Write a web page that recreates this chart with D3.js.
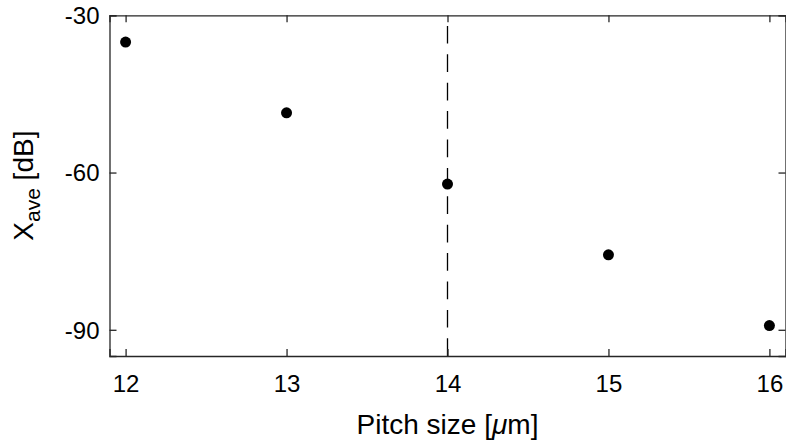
<!DOCTYPE html>
<html><head><meta charset="utf-8">
<script src="https://cdn.jsdelivr.net/npm/d3@7"></script>
<style>body{margin:0;background:#fff}svg{display:block}text{font-family:"Liberation Sans",Arial,Helvetica,sans-serif;fill:#000}</style>
</head><body><svg id="c" width="786" height="443"></svg>
<script>
const pitch = [12, 13, 14, 15, 16];
const xave = [-35.1, -48.6, -62.2, -75.7, -89.2];
const xTicks = [12, 13, 14, 15, 16];
const yTicks = [-30, -60, -90];
const xDomain = [11.9, 16.1];
const yDomain = [-95, -30];
const markerX = 14;

const svg = d3.select("#c");
const L = 109.5, R = 785.5, T = 15.3, B = 356;
const x = d3.scaleLinear().domain(xDomain).range([L, R]);
const y = d3.scaleLinear().domain(yDomain).range([B, T]);
const tickLen = 7, axisCol = "#262626";

// dashed vertical line (drawn bottom to top)
svg.append("line")
  .attr("x1", x(markerX)).attr("x2", x(markerX))
  .attr("y1", y(yDomain[0])).attr("y2", y(yDomain[1]))
  .attr("stroke", "#000").attr("stroke-width", 1.3)
  .attr("stroke-dasharray", "17.7,10.7");

// axes
const fmt = d => d3.format("d")(d).replace("−", "-");
const gB = svg.append("g").attr("transform", `translate(0,${B})`)
  .call(d3.axisBottom(x).tickValues(xTicks).tickSize(-tickLen).tickPadding(19).tickFormat(fmt));
const gT = svg.append("g").attr("transform", `translate(0,${T})`)
  .call(d3.axisTop(x).tickValues(xTicks).tickSize(-tickLen).tickFormat(""));
const gL = svg.append("g").attr("transform", `translate(${L},0)`)
  .call(d3.axisLeft(y).tickValues(yTicks).tickSize(-tickLen).tickPadding(10).tickFormat(fmt));
const gR = svg.append("g").attr("transform", `translate(${R},0)`)
  .call(d3.axisRight(y).tickValues(yTicks).tickSize(-tickLen).tickFormat(""));
[gB, gT, gL, gR].forEach(g => {
  g.select(".domain").attr("stroke", axisCol).attr("stroke-width", 1.3);
  g.selectAll(".tick line").attr("stroke", axisCol).attr("stroke-width", 1.3);
  g.selectAll(".tick text").attr("font-size", 24).attr("fill", "#000")
    .attr("font-family", '"Liberation Sans",Arial,sans-serif');
});
gB.selectAll(".tick text").attr("dy", "0.71em");
gL.selectAll(".tick text").attr("dy", "0.35em");

// points
svg.append("g").selectAll("circle").data(pitch).join("circle")
  .attr("cx", (d, i) => x(d)).attr("cy", (d, i) => y(xave[i]))
  .attr("r", 5.5).attr("fill", "#000");

// labels
const xl = svg.append("text").attr("x", (L + R) / 2).attr("y", 434)
  .attr("text-anchor", "middle").attr("font-size", 28);
xl.append("tspan").text("Pitch size [");
xl.append("tspan").attr("font-style", "italic").text("μ");
xl.append("tspan").text("m]");

const yl = svg.append("text").attr("transform", `translate(33,${(T + B) / 2}) rotate(-90)`)
  .attr("text-anchor", "middle").attr("font-size", 28);
yl.append("tspan").text("X");
yl.append("tspan").attr("font-size", 21).attr("dy", 7).text("ave");
yl.append("tspan").attr("dy", -7).text(" [dB]");
</script></body></html>
